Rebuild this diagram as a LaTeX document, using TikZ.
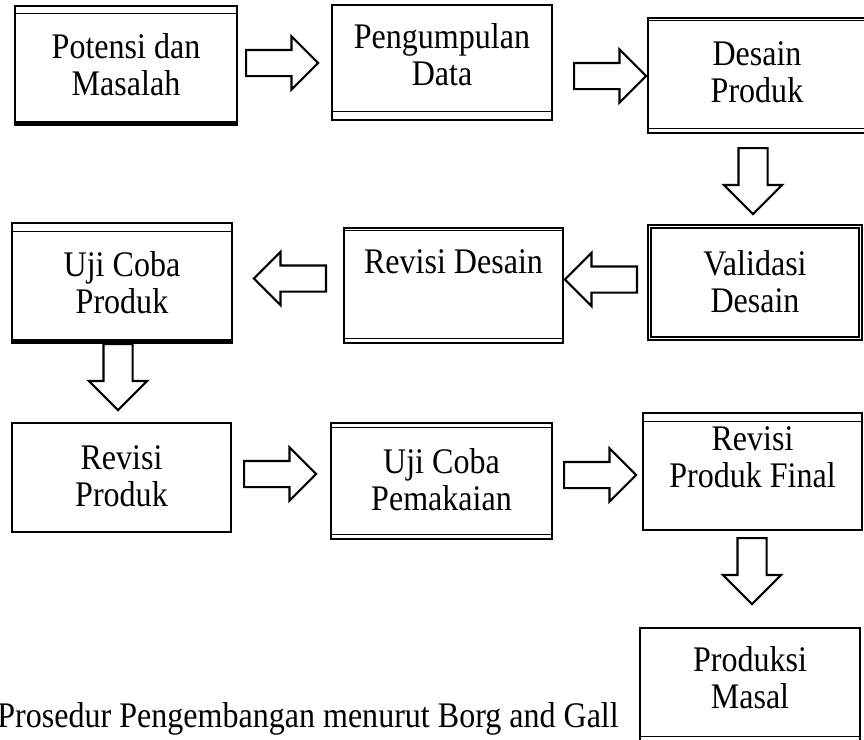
\documentclass[tikz,border=0pt]{standalone}
\usepackage{fontspec}
\setmainfont{Liberation Serif}[FakeStretch=0.89]
\usetikzlibrary{fit,shapes.arrows}

\tikzset{
  every node/.style={font=\fontsize{18}{18.5}\selectfont},
  procbox/.style={draw, line width=1.3pt, inner sep=0pt},
  boxtext/.style={align=center, inner sep=0pt},
  band/.style={line width=0.7pt},
  blockarrow/.style={single arrow, draw, line width=1.1pt, fill=white, inner sep=6pt,
    minimum height=36pt, single arrow head extend=6.75pt, single arrow tip angle=90,
    anchor=tail},
  downarrow/.style={blockarrow, shape border rotate=270, inner sep=6.75pt,
    minimum height=33pt, single arrow head extend=7.25pt}
}

\begin{document}
\begin{tikzpicture}[x=0.5pt,y=0.5pt,yscale=-1,xscale=1]
\useasboundingbox (0,0) rectangle (864,740);

% boxes, first row
\node[procbox, fit={(15,6) (237,122)}] (pot) {};
\node[boxtext] (pottxt) at (126,65) {Potensi dan\\Masalah};
\draw[band] ([yshift=4.5pt]pot.north west) -- ([yshift=4.5pt]pot.north east);
\draw[line width=2.2pt] ([yshift=0.3pt]pot.south west) -- ([yshift=0.3pt]pot.south east);
\node[procbox, fit={(332,5) (552,120)}] (data) {};
\node[boxtext] (datatxt) at (442,55) {Pengumpulan\\Data};
\draw[band] ([yshift=-5pt]data.south west) -- ([yshift=-5pt]data.south east);
\node[procbox, fit={(648,18) (866,133)}] (desain) {};
\node[boxtext] (desaintxt) at (757,72) {Desain\\Produk};
\draw[band] ([yshift=1.8pt]desain.north west) -- ([yshift=1.8pt]desain.north east);
\draw[band] ([yshift=-3pt]desain.south west) -- ([yshift=-3pt]desain.south east);

% boxes, second row
\node[procbox, fit={(648,225) (862,340)}] (valid) {};
\node[boxtext] (validtxt) at (755,282) {Validasi\\Desain};
\draw[band] ([shift={(2.2pt,2.2pt)}]valid.north west) rectangle ([shift={(-2.2pt,-2.2pt)}]valid.south east);
\node[procbox, fit={(344,228) (563,343)}] (revdes) {};
\node[boxtext, anchor=base] (revdestxt) at (453.5,273) {Revisi Desain};
\draw[band] ([yshift=2pt]revdes.north west) -- ([yshift=2pt]revdes.north east);
\draw[band] ([yshift=-3pt]revdes.south west) -- ([yshift=-3pt]revdes.south east);
\node[procbox, fit={(12,223) (232,340)}] (ujiprod) {};
\node[boxtext] (ujiprodtxt) at (122,283) {Uji Coba\\Produk};
\draw[band] ([yshift=5pt]ujiprod.north west) -- ([yshift=5pt]ujiprod.north east);
\draw[line width=2.2pt] ([yshift=0.3pt]ujiprod.south west) -- ([yshift=0.3pt]ujiprod.south east);

% boxes, third row
\node[procbox, fit={(12,423) (231,532)}] (revprod) {};
\node[boxtext] (revprodtxt) at (121.5,476) {Revisi\\Produk};
\node[procbox, fit={(331,423) (552,539)}] (ujipakai) {};
\node[boxtext] (ujipakaitxt) at (441.5,480) {Uji Coba\\Pemakaian};
\draw[band] ([yshift=3pt]ujipakai.north west) -- ([yshift=3pt]ujipakai.north east);
\draw[band] ([yshift=-3pt]ujipakai.south west) -- ([yshift=-3pt]ujipakai.south east);
\node[procbox, fit={(643,413) (862,530)}] (revfinal) {};
\node[boxtext] (revfinaltxt) at (752.5,457) {Revisi\\Produk Final};
\draw[band] ([yshift=5pt]revfinal.north west) -- ([yshift=5pt]revfinal.north east);

% last box
\node[procbox, fit={(640,628) (860,742)}] (masal) {};
\node[boxtext] (masaltxt) at (750,678) {Produksi\\Masal};
\draw[band] ([yshift=-3.5pt]masal.south west) -- ([yshift=-3.5pt]masal.south east);

% block arrows (placed by their tails)
\node[blockarrow] (ar1) at (245,63) {};
\node[blockarrow] (ar2) at (573,76) {};
\node[downarrow] (ar3) at (753,147) {};
\node[blockarrow, shape border rotate=184] (ar4) at (638,279.5) {};
\node[blockarrow, shape border rotate=184] (ar5) at (327,278.5) {};
\node[downarrow] (ar6) at (118,343) {};
\node[blockarrow] (ar7) at (243,474) {};
\node[blockarrow] (ar8) at (563,475) {};
\node[downarrow] (ar9) at (752,537) {};

% caption
\node[anchor=base west, inner sep=0pt] (cap) at (-3,727) {Prosedur Pengembangan menurut Borg and Gall};

\end{tikzpicture}
\end{document}
